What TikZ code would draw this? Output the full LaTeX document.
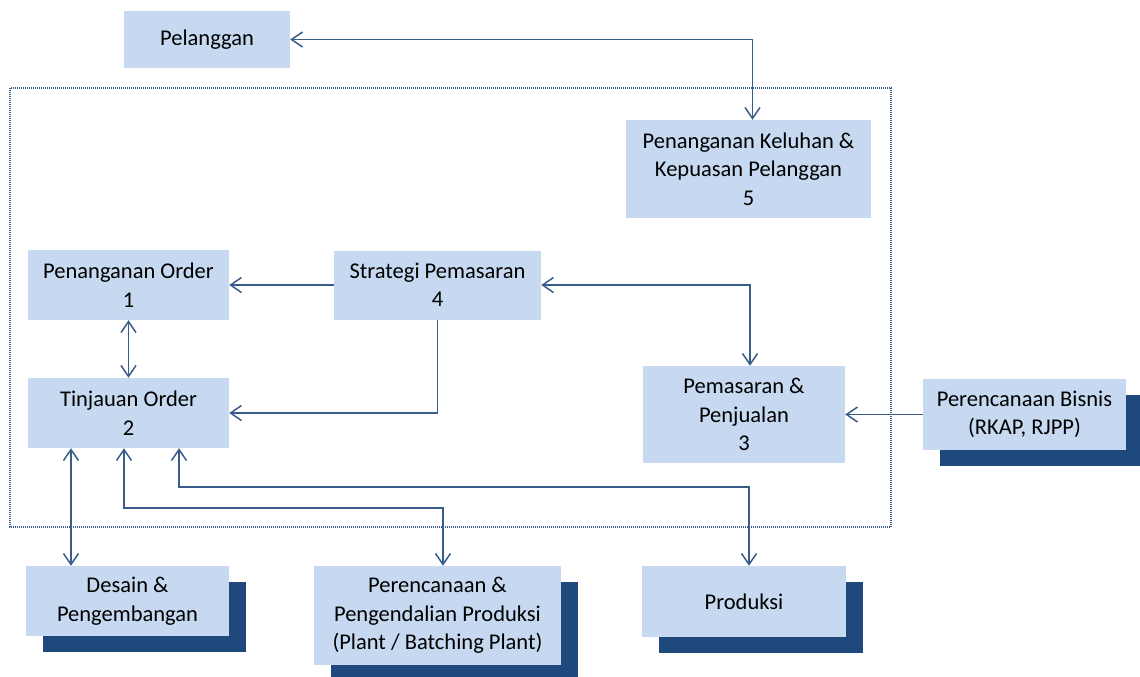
\documentclass[tikz,border=0pt]{standalone}
\usepackage{fontspec}
\setmainfont{Carlito}
\usetikzlibrary{arrows.meta, positioning, shadows}
\definecolor{boxfill}{RGB}{198,217,241}
\definecolor{shadowblue}{RGB}{31,73,125}
\definecolor{linkblue}{RGB}{56,93,138}

\begin{document}
\begin{tikzpicture}[x=1pt, y=-1pt,
  box/.style={fill=boxfill, align=center, inner sep=0pt, font=\fontsize{22.5}{28.5}\selectfont},
  shadowed/.style={box, drop shadow={shadow xshift=17pt, shadow yshift=-16pt, fill=shadowblue, opacity=1}},
  link/.style={draw=linkblue, line width=1.5pt, -{Straight Barb[length=11pt, width=15pt]}},
  both/.style={draw=linkblue, line width=1.5pt, {Straight Barb[length=11pt, width=15pt]}-{Straight Barb[length=11pt, width=15pt]}},
]
\useasboundingbox (0,0) rectangle (1140,677);

% batas internal
\draw[linkblue, line width=1.2pt, dash pattern=on 1pt off 1pt] (10,88) rectangle (891,527);

% proses di dalam
\node[box, minimum width=166pt, minimum height=57pt] (pelanggan) at (207,39.5) {Pelanggan};
\node[box, minimum width=245pt, minimum height=98pt] (keluhan) at (748.5,169) {Penanganan Keluhan \&\\Kepuasan Pelanggan\\5};
\node[box, minimum width=201pt, minimum height=70pt] (order) at (128.5,285) {Penanganan Order\\1};
\node[box, minimum width=207pt, minimum height=69pt] (strategi) at (437.5,285) {Strategi Pemasaran\\4};
\node[box, minimum width=201pt, minimum height=70pt] (tinjauan) at (128.5,413) {Tinjauan Order\\2};
\node[box, minimum width=202pt, minimum height=97pt] (pemasaran) at (744,414.5) {Pemasaran \&\\Penjualan\\3};

% proses luar (berbayang)
\node[shadowed, minimum width=203pt, minimum height=71pt] (bisnis) at (1024.5,414.5) {Perencanaan Bisnis\\(RKAP, RJPP)};
\node[shadowed, minimum width=203pt, minimum height=70pt] (desain) at (127.5,601) {Desain \&\\Pengembangan};
\node[shadowed, minimum width=247pt, minimum height=99pt] (ppp) at (437.5,615.5) {Perencanaan \&\\Pengendalian Produksi\\(Plant / Batching Plant)};
\node[shadowed, minimum width=204pt, minimum height=71pt] (produksi) at (744,601.5) {Produksi};

% aliran
\draw[both] (pelanggan.east) -| ([xshift=4pt]keluhan.north);
\draw[link] (strategi.west) -- (order.east);
\draw[both] (strategi.east) -| ([xshift=6pt]pemasaran.north);
\draw[both] (order.south) -- (tinjauan.north);
\draw[link] (strategi.south) |- (tinjauan.east);
\draw[link] (bisnis.west) -- (bisnis.west -| pemasaran.east);
\draw[both] (tinjauan.south -| 71,0) -- (desain.north -| 71,0);
\draw[both] (tinjauan.south -| 124,0) |- (443,508) -- (ppp.north -| 443,0);
\draw[both] (tinjauan.south -| 179,0) |- (749,487) -- (produksi.north -| 749,0);

\end{tikzpicture}
\end{document}
